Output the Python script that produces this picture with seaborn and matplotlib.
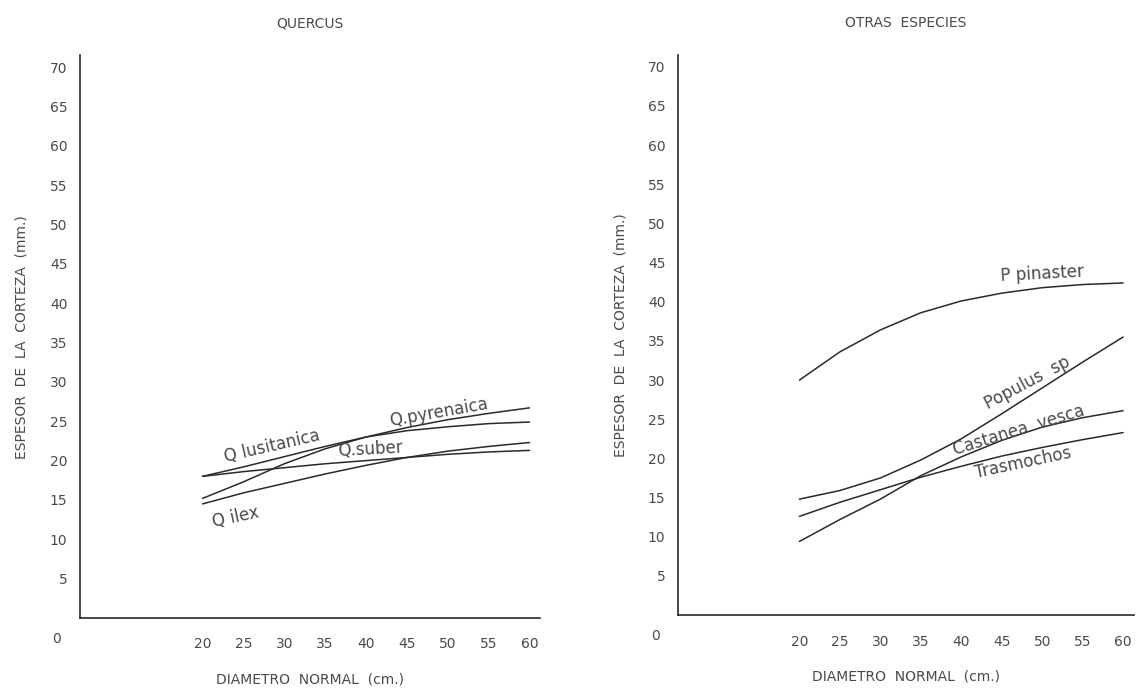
import numpy as np
import pandas as pd
import matplotlib
matplotlib.use("Agg")
import matplotlib.pyplot as plt
import seaborn as sns

# diametro normal (cm)
diametro = [20, 25, 30, 35, 40, 45, 50, 55, 60]

# QUERCUS - espesor de la corteza (mm)
q_lusitanica = [18.0, 19.2, 20.5, 21.8, 23.0, 23.8, 24.3, 24.7, 24.9]
q_pyrenaica = [15.2, 17.3, 19.6, 21.5, 23.0, 24.2, 25.2, 26.0, 26.7]
q_suber = [18.0, 18.6, 19.1, 19.6, 20.0, 20.4, 20.8, 21.1, 21.3]
q_ilex = [14.5, 15.9, 17.1, 18.3, 19.4, 20.4, 21.2, 21.8, 22.3]

# OTRAS ESPECIES
p_pinaster = [30.0, 33.6, 36.4, 38.6, 40.1, 41.1, 41.8, 42.2, 42.4]
populus_sp = [14.8, 15.9, 17.5, 19.8, 22.5, 25.7, 29.0, 32.3, 35.5]
castanea_vesca = [9.4, 12.2, 14.8, 17.8, 20.2, 22.3, 24.0, 25.2, 26.1]
trasmochos = [12.6, 14.4, 16.0, 17.6, 19.0, 20.3, 21.4, 22.4, 23.3]

y_ticks = [5, 10, 15, 20, 25, 30, 35, 40, 45, 50, 55, 60, 65, 70]
x_ticks = [10, 15, 20, 25, 30, 35, 40, 45, 50, 55, 60]
x_ticklabels = ["", "", "20", "25", "30", "35", "40", "45", "50", "55", "60"]


def long_df(series):
    rows = []
    for name, vals in series.items():
        for d, v in zip(diametro, vals):
            rows.append({"diametro": d, "espesor": v, "especie": name})
    return pd.DataFrame(rows)


df_q = long_df({"Q lusitanica": q_lusitanica, "Q pyrenaica": q_pyrenaica,
                "Q suber": q_suber, "Q ilex": q_ilex})
df_o = long_df({"P pinaster": p_pinaster, "Populus sp": populus_sp,
                "Castanea vesca": castanea_vesca, "Trasmochos": trasmochos})

sns.set_style("white")
plt.rcParams["font.family"] = ["DejaVu Sans"]
ink = "#2a2a2a"
txt = "#4a4a4a"

fig = plt.figure(figsize=(11.42, 6.88), dpi=100)
ax1 = fig.add_axes([0.070, 0.1017, 0.403, 0.818])
ax2 = fig.add_axes([0.5937, 0.106, 0.399, 0.814])

for ax, df in [(ax1, df_q), (ax2, df_o)]:
    sns.lineplot(data=df, x="diametro", y="espesor", hue="especie",
                 palette=[ink] * 4, linewidth=1.1, legend=False, ax=ax)
    ax.set_xlim(5, 61.3)
    ax.set_ylim(0, 71.5)
    ax.set_yticks(y_ticks)
    ax.set_yticklabels([str(t) for t in y_ticks])
    ax.set_xticks(x_ticks)
    ax.set_xticklabels(x_ticklabels)
    for s in ["top", "right"]:
        ax.spines[s].set_visible(False)
    for s in ["left", "bottom"]:
        ax.spines[s].set_color(ink)
        ax.spines[s].set_linewidth(1.2)
    ax.tick_params(axis="both", direction="in", length=3, width=1,
                   colors=ink, labelcolor=txt, labelsize=10)
    ax.tick_params(axis="y", pad=9)
    ax.tick_params(axis="x", pad=14)
    ax.set_ylabel("ESPESOR  DE  LA  CORTEZA  (mm.)", color=txt,
                  fontsize=10, labelpad=15)
    ax.set_xlabel("DIAMETRO  NORMAL  (cm.)", color=txt, fontsize=10,
                  labelpad=15)
    ax.text(-0.05, -0.037, "0", transform=ax.transAxes, ha="center",
            va="center", color=txt, fontsize=10)

ax1.set_title("QUERCUS", color=txt, fontsize=10, pad=20)
ax2.set_title("OTRAS  ESPECIES", color=txt, fontsize=10, pad=20)

lab = dict(color=txt, fontsize=12, rotation_mode="anchor", ha="left",
           va="baseline")
ax1.text(22.8, 19.8, "Q lusitanica", rotation=13, **lab)
ax1.text(43.0, 24.4, "Q.pyrenaica", rotation=10, **lab)
ax1.text(36.6, 20.6, "Q.suber", rotation=3, **lab)
ax1.text(21.4, 11.6, "Q ilex", rotation=12, **lab)

ax2.text(44.9, 42.6, "P pinaster", rotation=3, **lab)
ax2.text(43.3, 26.2, "Populus  sp", rotation=28, **lab)
ax2.text(39.2, 20.4, "Castanea  vesca", rotation=17, **lab)
ax2.text(41.8, 17.5, "Trasmochos", rotation=12, **lab)

fig.savefig("out.png", dpi=100)
